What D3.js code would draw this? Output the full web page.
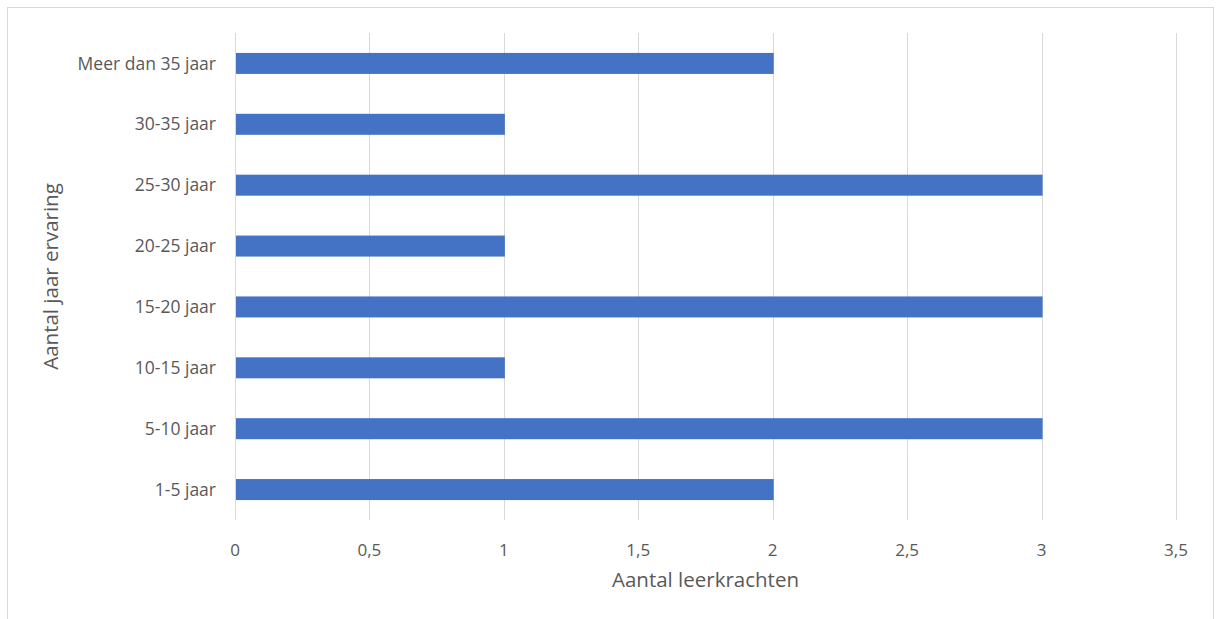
<!DOCTYPE html>
<html>
<head>
<meta charset="utf-8">
<script src="https://cdn.jsdelivr.net/npm/d3@7"></script>
<style>
  body { margin: 0; background: #fff; }
  text { font-family: "Open Sans", "Noto Sans", sans-serif; fill: #595959; }
</style>
</head>
<body>
<svg id="chart" width="1222" height="619"></svg>
<script>
// categories, bottom to top as in the chart
var categories = ["1-5 jaar", "5-10 jaar", "10-15 jaar", "15-20 jaar", "20-25 jaar", "25-30 jaar", "30-35 jaar", "Meer dan 35 jaar"];
var values = [2, 3, 1, 3, 1, 3, 1, 2];
var xTicks = [0, 0.5, 1, 1.5, 2, 2.5, 3, 3.5];

var svg = d3.select("#chart");

// chart border
svg.append("rect")
  .attr("x", 7.5).attr("y", 7.5)
  .attr("width", 1206).attr("height", 620)
  .attr("fill", "none")
  .attr("stroke", "#d9d9d9")
  .attr("stroke-width", 1);

// plot area
var plotLeft = 235, plotRight = 1176, plotTop = 33, plotBottom = 520;

var x = d3.scaleLinear().domain([0, 3.5]).range([plotLeft, plotRight]);
var y = d3.scaleBand()
  .domain(categories.slice().reverse())
  .range([plotTop, plotBottom])
  .paddingInner(0.655)
  .paddingOuter(0.3275);

// gridlines
svg.append("g")
  .selectAll("line")
  .data(xTicks)
  .enter()
  .append("line")
    .attr("x1", function(d){ return Math.round(x(d)) + 0.5 })
    .attr("x2", function(d){ return Math.round(x(d)) + 0.5 })
    .attr("y1", plotTop)
    .attr("y2", plotBottom)
    .attr("stroke", "#d9d9d9")
    .attr("stroke-width", 1);

// bars
svg.append("g")
  .selectAll("rect")
  .data(categories)
  .enter()
  .append("rect")
    .attr("x", x(0) + 1)
    .attr("y", function(d){ return y(d) })
    .attr("width", function(d, i){ return x(values[i]) - x(0) })
    .attr("height", y.bandwidth())
    .attr("fill", "#4472c4");

// x tick labels
svg.append("g")
  .selectAll("text")
  .data(xTicks)
  .enter()
  .append("text")
    .attr("x", function(d){ return x(d) })
    .attr("y", 556)
    .attr("text-anchor", "middle")
    .style("font-size", "17px")
    .text(function(d){ return String(d).replace(".", ",") });

// y category labels
svg.append("g")
  .selectAll("text")
  .data(categories)
  .enter()
  .append("text")
    .attr("x", 216)
    .attr("y", function(d){ return y(d) + y.bandwidth() / 2 })
    .attr("dy", "0.35em")
    .attr("text-anchor", "end")
    .style("font-size", "17.5px")
    .text(function(d){ return d });

// axis titles
svg.append("text")
  .attr("x", (plotLeft + plotRight) / 2)
  .attr("y", 587)
  .attr("text-anchor", "middle")
  .style("font-size", "20.5px")
  .text("Aantal leerkrachten");

svg.append("text")
  .attr("transform", "translate(58," + ((plotTop + plotBottom) / 2) + ") rotate(-90)")
  .attr("text-anchor", "middle")
  .style("font-size", "20.5px")
  .text("Aantal jaar ervaring");
</script>
</body>
</html>
